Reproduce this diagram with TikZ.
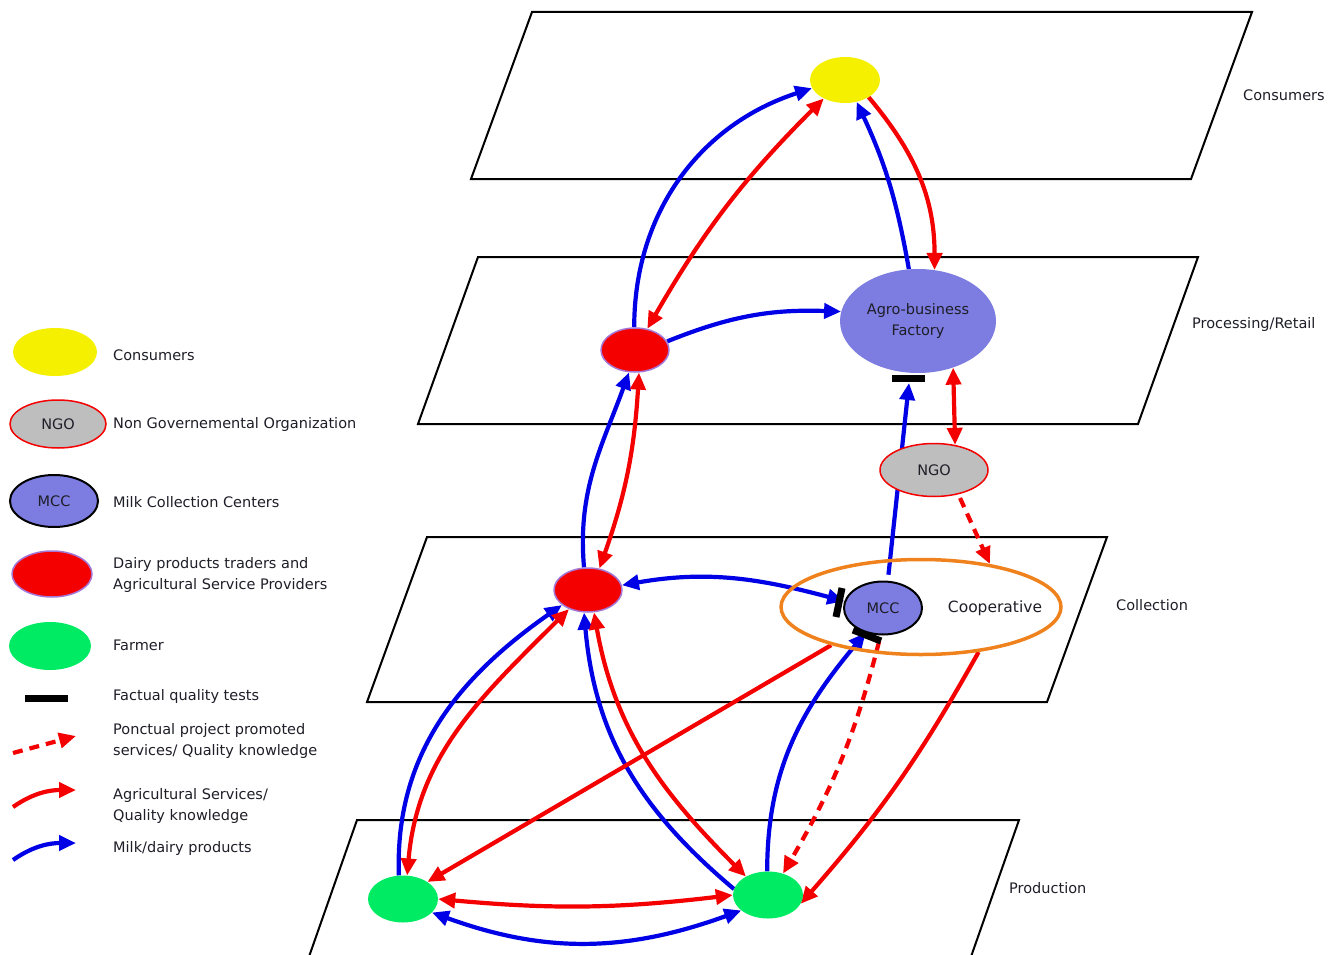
\documentclass[tikz,border=0pt]{standalone}
\usepackage{fontspec}
\setmainfont{DejaVu Sans}
\usetikzlibrary{arrows.meta,shapes.geometric}
\definecolor{MilkBlue}{RGB}{0,0,230}
\definecolor{ServRed}{RGB}{245,0,0}
\definecolor{ConsYellow}{RGB}{245,240,0}
\definecolor{FarmGreen}{RGB}{0,235,100}
\definecolor{MccBlue}{RGB}{125,125,225}
\definecolor{NgoGray}{RGB}{190,190,190}
\definecolor{CoopOrange}{RGB}{240,130,30}
\definecolor{TradeLilac}{RGB}{165,120,215}
\definecolor{TxtGray}{RGB}{30,30,40}
\pgfdeclarelayer{planes}
\pgfdeclarelayer{edges}
\pgfsetlayers{planes,edges,main}

\tikzset{
  txt/.style={inner sep=0pt, font=\fontsize{14.5}{21}\selectfont, text=TxtGray},
  actor/.style={ellipse, inner sep=0pt, align=center, font=\fontsize{14.5}{21}\selectfont, text=TxtGray},
  consumer/.style={actor, fill=ConsYellow, minimum width=70pt, minimum height=46pt},
  factory/.style={actor, fill=MccBlue, minimum width=156pt, minimum height=104pt},
  trader/.style={actor, fill=ServRed, draw=TradeLilac, line width=1.5pt, minimum width=68pt, minimum height=44pt},
  ngo/.style={actor, fill=NgoGray, draw=ServRed, line width=1.5pt, minimum width=108pt, minimum height=53pt},
  mcc/.style={actor, fill=MccBlue, draw=black, line width=2pt, minimum width=78pt, minimum height=53pt},
  coop/.style={ellipse, draw=CoopOrange, line width=3.5pt, minimum width=280pt, minimum height=95pt},
  farmer/.style={actor, fill=FarmGreen, minimum width=70pt, minimum height=47pt},
  plane/.style={draw=black, line width=2pt},
  milk/.style={draw=MilkBlue, line width=4.2pt, ->},
  serv/.style={draw=ServRed, line width=4.2pt, ->},
  promo/.style={serv, dash pattern=on 10pt off 7pt},
  qtest/.style={draw=black, line width=7pt},
  >={Triangle[length=17pt,width=15pt]},
}

\begin{document}
\begin{tikzpicture}[x=1pt,y=1pt]
  \useasboundingbox (0,0) rectangle (1343,-955);
  % planes
  \begin{pgfonlayer}{planes}
    \draw[plane] (532,-12) -- (1252,-12) -- (1191,-179) -- (471,-179) -- cycle;
    \draw[plane] (478,-257) -- (1198,-257) -- (1138,-424) -- (418,-424) -- cycle;
    \draw[plane] (427,-537) -- (1107,-537) -- (1047,-702) -- (367,-702) -- cycle;
    \draw[plane] (357,-820) -- (1019,-820) -- (960,-988) -- (298,-988) -- cycle;
  \end{pgfonlayer}
  \node[txt, anchor=west] (lvlCons) at (1243,-95) {Consumers};
  \node[txt, anchor=west] (lvlProc) at (1192,-324) {Processing/Retail};
  \node[txt, anchor=west] (lvlColl) at (1116,-605) {Collection};
  \node[txt, anchor=west] (lvlProd) at (1009,-888) {Production};

  % actors
  \node[consumer] (cons) at (845,-80) {};
  \node[factory] (fac) at (918,-321) {Agro-business\\Factory};
  \node[trader] (tradP) at (635,-350) {};
  \node[ngo] (ngo) at (934,-470) {NGO};
  \node[trader] (tradC) at (588,-590) {};
  \node[coop] (coop) at (921,-607) {};
  \node[txt, font=\fontsize{15.5}{20}\selectfont] (coopTxt) at (995,-608) {Cooperative};
  \node[mcc] (mcc) at (883,-608) {MCC};
  \node[farmer] (farmL) at (403,-899) {};
  \node[farmer] (farmR) at (768,-895) {};
  \coordinate (facBar) at (909,-383);

  % flows
  \begin{pgfonlayer}{edges}
    % milk/dairy products
    \draw[milk] (tradP.92) to[out=90,in=198] (cons.194);
    \draw[milk] (fac.100) to[out=100,in=-65] (cons.-62);
    \draw[milk] (tradP.15) to[out=22,in=178] (fac.173);
    \draw[milk] (tradC.100) to[out=95,in=250] (tradP.255);
    \draw[milk, shorten <=6pt] (mcc.80) -- (facBar);
    \draw[milk, <->] (tradC.8) to[out=10,in=165] (mcc.170);
    \draw[milk] (farmL.100) to[out=92,in=215] (tradC.210);
    \draw[milk] (farmR.170) to[out=140,in=-85] (tradC.260);
    \draw[milk] (farmR.92) to[out=90,in=230] (mcc.235);
    \draw[milk, <->] (farmL.-25) to[out=-20,in=-160] (farmR.-150);
    % agricultural services / quality knowledge
    \draw[serv] (cons.-36) to[out=-50,in=90] (fac.72);
    \draw[serv, <->] (tradP.60) to[out=60,in=225] (cons.221);
    \draw[serv, <->] (tradC.62) to[bend right=8] (tradP.280);
    \draw[serv, <->] (fac.-53) -- (ngo.50);
    \draw[serv, <->] (tradC.225) to[out=225,in=85] (farmL.80);
    \draw[serv, <->] (tradC.285) to[out=-80,in=135] (farmR.140);
    \draw[serv] (coop.203) -- (farmL.35);
    \draw[serv] (coop.-38) to[bend left=6] (farmR.-15);
    \draw[serv, <->] (farmL.0) to[bend right=6] (farmR.180);
    % project promoted services
    \draw[promo, shorten <=4pt] (ngo.-45) -- (coop.32);
    \draw[promo, shorten <=6pt] (mcc.265) to[bend left=8] (farmR.55);
  \end{pgfonlayer}

  % quality tests
  \draw[qtest] (892,-378) -- (925,-378);
  \draw[qtest] (842,-588) -- (836,-617);
  \draw[qtest] (853,-630) -- (881,-641);

  % legend
  \node[consumer, minimum width=84pt, minimum height=48pt] (lgCons) at (55,-352) {};
  \node[txt, anchor=west] (lgConsTxt) at (113,-355) {Consumers};
  \node[ngo, minimum width=96pt, minimum height=48pt] (lgNgo) at (58,-424) {NGO};
  \node[txt, anchor=west] (lgNgoTxt) at (113,-424) {Non Governemental Organization};
  \node[mcc, minimum width=88pt, minimum height=52pt] (lgMcc) at (54,-501) {MCC};
  \node[txt, anchor=west] (lgMccTxt) at (113,-502) {Milk Collection Centers};
  \node[trader, minimum width=80pt, minimum height=46pt] (lgTrad) at (52,-574) {};
  \node[txt, anchor=west, align=left] (lgTradTxt) at (113,-575) {Dairy products traders and\\Agricultural Service Providers};
  \node[farmer, minimum width=82pt, minimum height=48pt] (lgFarm) at (50,-646) {};
  \node[txt, anchor=west] (lgFarmTxt) at (113,-645) {Farmer};
  \draw[qtest] (25,-698) -- (68,-698);
  \node[txt, anchor=west] (lgTestTxt) at (113,-696) {Factual quality tests};
  \coordinate (lgPromoA) at (13,-753);
  \coordinate (lgPromoB) at (76,-736);
  \draw[promo] (lgPromoA) -- (lgPromoB);
  \node[txt, anchor=west, align=left] (lgPromoTxt) at (113,-741) {Ponctual project promoted\\services/ Quality knowledge};
  \coordinate (lgServA) at (13,-807);
  \coordinate (lgServB) at (76,-790);
  \draw[serv] (lgServA) to[out=35,in=180] (lgServB);
  \node[txt, anchor=west, align=left] (lgServTxt) at (113,-806) {Agricultural Services/\\Quality knowledge};
  \coordinate (lgMilkA) at (13,-860);
  \coordinate (lgMilkB) at (76,-843);
  \draw[milk] (lgMilkA) to[out=35,in=180] (lgMilkB);
  \node[txt, anchor=west] (lgMilkTxt) at (113,-848) {Milk/dairy products};
\end{tikzpicture}
\end{document}
